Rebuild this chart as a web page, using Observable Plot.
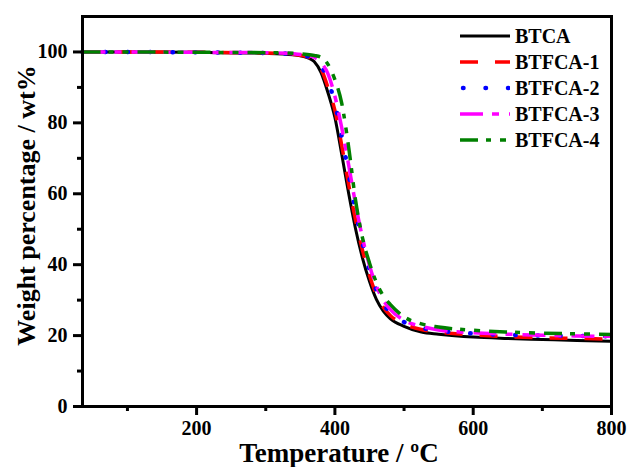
<!DOCTYPE html>
<html><head><meta charset="utf-8">
<script src="https://cdn.jsdelivr.net/npm/d3@7"></script>
<script src="https://cdn.jsdelivr.net/npm/@observablehq/plot@0.6"></script>
<style>
body{margin:0;background:#fff;}
#wrap{position:relative;width:629px;height:467px;overflow:hidden;}
#legend{position:absolute;left:460px;top:23px;font-family:"Liberation Serif",serif;font-weight:bold;font-size:20px;color:#000;}
.row{display:flex;align-items:center;height:26px;}
.row span{margin-left:5px;line-height:26px;}
.row svg{display:block;}
</style></head><body><div id="wrap"><div id="legend"></div></div>
<script>
// Temperature grid (°C)
const temperature = [35, 100, 200, 300, 340, 360, 370, 380, 390, 400, 410, 420, 430, 440, 450, 460, 470, 480, 500, 525, 550, 600, 650, 700, 750, 800];
// Weight percentage (wt%) per sample
const btca   = [100, 100, 99.9, 99.6, 99.2, 98.4, 97.3, 94.2, 88.5, 81.5, 71.0, 60.0, 50.0, 41.8, 35.3, 30.2, 26.9, 24.8, 22.6, 21.0, 20.4, 19.6, 19.2, 18.9, 18.6, 18.4];
const btfca1 = [100, 100, 99.9, 99.7, 99.3, 98.6, 97.7, 95.2, 90.0, 83.5, 73.5, 62.5, 52.5, 44.0, 37.0, 31.5, 28.0, 25.7, 23.3, 21.7, 21.0, 20.2, 19.7, 19.4, 19.2, 19.0];
const btfca2 = [100, 100, 99.9, 99.7, 99.4, 98.8, 98.2, 96.2, 91.8, 85.5, 76.0, 65.5, 55.0, 46.0, 38.5, 32.8, 29.0, 26.5, 23.8, 22.2, 21.4, 20.6, 20.2, 20.0, 19.9, 19.8];
const btfca3 = [100, 100, 99.9, 99.8, 99.5, 99.0, 98.5, 97.0, 93.8, 87.5, 78.5, 68.0, 57.0, 47.5, 39.8, 34.0, 30.0, 27.4, 24.3, 22.6, 21.6, 20.8, 20.4, 20.1, 19.9, 19.8];
const btfca4 = [100, 100, 99.9, 99.8, 99.6, 99.3, 99.0, 98.5, 96.5, 92.2, 85.4, 73.0, 58.0, 47.5, 40.5, 35.0, 31.2, 28.8, 25.3, 23.3, 22.4, 21.5, 21.0, 20.7, 20.5, 20.3];

const seriesNames = ["BTCA", "BTFCA-1", "BTFCA-2", "BTFCA-3", "BTFCA-4"];
const seriesValues = [btca, btfca1, btfca2, btfca3, btfca4];
const seriesColors = ["#000000", "#ff0000", "#0000ff", "#ff00ff", "#008000"];
const seriesDash = [null, "18,17", "0.5,22", "23,9,7,10", "18,8,5,9,6,9"];
const seriesCap = ["butt", "butt", "round", "butt", "butt"];
const seriesWidth = [3, 3.5, 4.5, 3.5, 3.5];

const xTicks = [200, 400, 600, 800];
const xMinorTicks = [100, 300, 500, 700];
const yTicks = [0, 20, 40, 60, 80, 100];
const yMinorTicks = [10, 30, 50, 70, 90];
const xTitle = "Temperature / \u00baC";
const yTitle = "Weight percentage / wt%";

const tables = seriesValues.map((vals, i) =>
  temperature.map((t, j) => ({T: t, w: vals[j], s: seriesNames[i]})));

const font = "Liberation Serif";
const plot = Plot.plot({
  width: 629, height: 467,
  marginLeft: 82, marginRight: 18, marginTop: 16, marginBottom: 61,
  x: {domain: [35, 800]},
  y: {domain: [0, 110]},
  style: {fontFamily: font, background: "white", color: "black"},
  marks: [
    ...tables.map((d, i) => Plot.line(d, {
      x: "T", y: "w", stroke: seriesColors[i], strokeWidth: seriesWidth[i],
      strokeDasharray: seriesDash[i], strokeLinecap: seriesCap[i], curve: "monotone-x"
    })),
    Plot.axisX(xTicks, {tickSize: 9, tickPadding: 5, fontSize: 20, fontWeight: "bold", strokeWidth: 3, label: null}),
    Plot.axisX(xMinorTicks, {tickSize: 5, strokeWidth: 3, tickFormat: () => "", label: null}),
    Plot.axisY(yTicks, {tickSize: 9, tickPadding: 6, fontSize: 20, fontWeight: "bold", strokeWidth: 3, label: null}),
    Plot.axisY(yMinorTicks, {tickSize: 5, strokeWidth: 3, tickFormat: () => "", label: null}),
    Plot.frame({stroke: "black", strokeWidth: 3}),
    Plot.text([yTitle], {text: d => d, frameAnchor: "left", textAnchor: "middle", lineAnchor: "middle", rotate: -90, dx: -56, dy: -6, fontSize: 26, fontWeight: "bold"}),
    Plot.text([xTitle], {text: d => d, frameAnchor: "bottom", textAnchor: "middle", lineAnchor: "bottom", dx: -8, dy: 55, fontSize: 27, fontWeight: "bold"})
  ]
});
const wrap = document.getElementById("wrap");
wrap.insertBefore(plot, wrap.firstChild);

const legend = document.getElementById("legend");
seriesNames.forEach((name, i) => {
  const row = document.createElement("div");
  row.className = "row";
  const ns = "http://www.w3.org/2000/svg";
  const svg = document.createElementNS(ns, "svg");
  svg.setAttribute("width", 50); svg.setAttribute("height", 26);
  const ln = document.createElementNS(ns, "line");
  ln.setAttribute("x1", seriesCap[i] === "round" ? 3 : 0);
  ln.setAttribute("x2", 50); ln.setAttribute("y1", 13); ln.setAttribute("y2", 13);
  ln.setAttribute("stroke", seriesColors[i]);
  ln.setAttribute("stroke-width", seriesWidth[i]);
  ln.setAttribute("stroke-linecap", seriesCap[i]);
  if (seriesDash[i]) ln.setAttribute("stroke-dasharray", seriesDash[i]);
  svg.appendChild(ln);
  const span = document.createElement("span");
  span.textContent = name;
  row.appendChild(svg); row.appendChild(span);
  legend.appendChild(row);
});
</script></body></html>
